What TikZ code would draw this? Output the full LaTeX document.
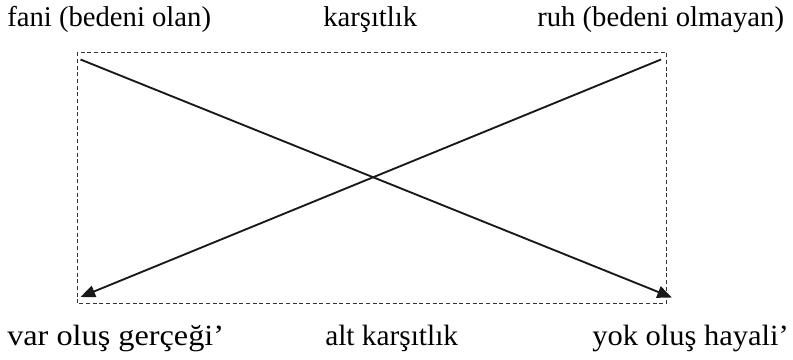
\documentclass[tikz,border=0pt]{standalone}
\usepackage{fontspec}
\setmainfont{Liberation Serif}
\usetikzlibrary{arrows.meta}
\begin{document}
\begin{tikzpicture}[x=0.75pt,y=-0.75pt,
  lbl/.style={inner sep=0pt,font=\fontsize{21.5}{24}\selectfont,anchor=base west},
  lblb/.style={inner sep=0pt,font=\fontsize{22}{24}\selectfont,anchor=base west},
  frame/.style={draw=black!80,densely dashed,line width=0.5pt},
  cross/.style={draw=black!90,line width=1.4pt,-{Triangle[length=11pt,width=9pt]}}]
\useasboundingbox (0,0) rectangle (793,360);
\draw[frame] (77,52.5) rectangle (666.5,303.5);
\coordinate (tl) at (80.5,59.5);
\coordinate (tr) at (661,59.5);
\coordinate (bl) at (80.5,297);
\coordinate (br) at (672,297.5);
\draw[cross] (tl) -- (br);
\draw[cross] (tr) -- (bl);
\node[lbl] (a) at (7,27) {fani (bedeni olan)};
\node[lbl] (b) at (323,27) {karşıtlık};
\node[lbl] (c) at (537,27) {ruh (bedeni olmayan)};
\node[lblb] (d) at (7,345) {\scalebox{1.1}[1]{var oluş gerçeği’}};
\node[lblb] (e) at (325,345) {alt karşıtlık};
\node[lblb] (f) at (592,345) {\scalebox{1.04}[1]{yok oluş hayali’}};
\end{tikzpicture}
\end{document}
